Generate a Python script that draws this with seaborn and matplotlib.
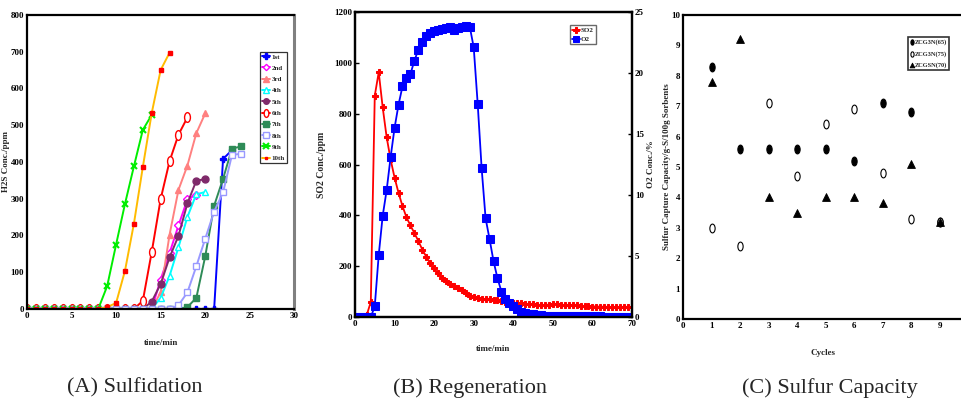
import numpy as np
import pandas as pd
import seaborn as sns
import matplotlib.pyplot as plt
from matplotlib.path import Path
from matplotlib.transforms import Affine2D

# ---- (A) sulfidation: H2S breakthrough per cycle ----
runs = ["1st", "2nd", "3rd", "4th", "5th", "6th", "7th", "8th", "9th", "10th"]
h2s_1st = [0] * 22 + [408, 432]
h2s_2nd = [0] * 15 + [80, 152, 227, 298, 311]
h2s_3rd = [0] * 15 + [45, 202, 324, 390, 478, 532]
h2s_4th = [0] * 15 + [30, 90, 168, 250, 312, 318]
h2s_5th = [0] * 14 + [20, 68, 140, 199, 287, 349, 353]
h2s_6th = [0] * 13 + [22, 155, 299, 402, 474, 521]
h2s_7th = [0] * 18 + [5, 30, 143, 281, 354, 436, 442]
h2s_8th = [0] * 17 + [10, 45, 116, 191, 265, 317, 419, 422]
h2s_9th = [0] * 9 + [62, 175, 286, 388, 487, 528]
h2s_10th = [0] * 9 + [5, 16, 104, 232, 386, 533, 650, 697]
h2s = [h2s_1st, h2s_2nd, h2s_3rd, h2s_4th, h2s_5th,
       h2s_6th, h2s_7th, h2s_8th, h2s_9th, h2s_10th]

# ---- (B) regeneration: SO2 (ppm) and O2 (%) vs time ----
regen_time = list(range(70))
so2 = [5, 0, 0, 10, 60, 871, 963, 825, 708, 620, 549, 489, 437, 393, 361, 331,
       300, 266, 238, 212, 192, 172, 155, 142, 131, 123, 115, 108, 94, 85, 79,
       75, 72, 70, 70, 69, 66, 63, 60, 58, 56, 55, 54, 52, 51, 50, 49, 48, 48,
       49, 50, 50, 49, 48, 47, 46, 46, 45, 44, 43, 42, 42, 41, 41, 40, 40, 40,
       40, 40, 40]
o2 = [0, 0, 0, 0, 0, 0.9, 5.1, 8.3, 10.4, 13.1, 15.5, 17.4, 18.9, 19.6, 19.9,
      21.0, 21.9, 22.5, 23.0, 23.3, 23.45, 23.55, 23.6, 23.7, 23.8, 23.5, 23.7,
      23.8, 23.85, 23.8, 22.1, 17.5, 12.2, 8.1, 6.4, 4.6, 3.2, 2.1, 1.5, 1.2,
      0.95, 0.7, 0.45, 0.35, 0.28, 0.22, 0.18, 0.15, 0.12, 0.1, 0.09, 0.08,
      0.08, 0.08, 0.07, 0.07, 0.07, 0.07, 0.06, 0.06, 0.06, 0.06, 0.06, 0.05,
      0.05, 0.05, 0.05, 0.05, 0.05, 0.05]

# ---- (C) sulfur capture capacity per cycle ----
cycles = [1, 2, 3, 4, 5, 6, 7, 8, 9, 10]
cap_65 = [8.3, 5.6, 5.6, 5.6, 5.6, 5.2, 7.1, 6.8, 3.2, 4.0]
cap_75 = [3.0, 2.4, 7.1, 4.7, 6.4, 6.9, 4.8, 3.3, 3.2, 3.1]
cap_70 = [7.8, 9.2, 4.0, 3.5, 4.0, 4.0, 3.8, 5.1, 3.2, 3.7]
sorbents = ["ZCG3N(65)", "ZCG3N(75)", "ZCGSN(70)"]

captions = ["(A) Sulfidation", "(B) Regeneration", "(C) Sulfur Capacity"]

sns.set_theme(style="white")
plt.rcParams["font.family"] = ["Liberation Serif", "DejaVu Serif"]
plt.rcParams["font.weight"] = "bold"

ellipse = Path.unit_circle().transformed(Affine2D().scale(0.6, 1.0))


def style_ax(ax):
    for s in ax.spines.values():
        s.set_color("black")
        s.set_linewidth(1.6)
    ax.tick_params(direction="in", length=3, width=1, labelsize=6.5, pad=2,
                   colors="black")
    for lab in ax.get_xticklabels() + ax.get_yticklabels():
        lab.set_fontweight("bold")


fig = plt.figure(figsize=(9.62, 4.13), dpi=100)

# panel A
axA = fig.add_axes([0.028, 0.252, 0.278, 0.712])
a_style = [
    dict(color="#0000ff", marker="P", mfc="#0000ff", mec="#0000ff"),
    dict(color="#ff00ff", marker="D", mfc="white", mec="#ff00ff", ms=4),
    dict(color="#ff8080", marker="^", mfc="#ff8080", mec="#ff8080"),
    dict(color="#00ffff", marker="^", mfc="white", mec="#00ffff"),
    dict(color="#7f2a6a", marker="o", mfc="#7f2a6a", mec="#7f2a6a"),
    dict(color="#ff0000", marker=ellipse, mfc="white", mec="#ff0000", ms=7),
    dict(color="#2e8b57", marker="s", mfc="#2e8b57", mec="#2e8b57"),
    dict(color="#9999ff", marker="s", mfc="white", mec="#9999ff"),
    dict(color="#00ee00", marker="x", mfc="#00ee00", mec="#00ee00", mew=1.5),
    dict(color="#ffbb00", marker="s", mfc="#ff0000", mec="#ff0000", ms=2.5),
]
for name, vals, st in zip(runs, h2s, a_style):
    st = dict(st)
    ms = st.pop("ms", 5)
    mew = st.pop("mew", 1.0)
    sns.lineplot(x=list(range(len(vals))), y=vals, ax=axA, label=name,
                 lw=1.4, ms=ms, mew=mew, **st)
axA.set_xlim(0, 30)
axA.set_ylim(0, 800)
axA.set_xticks(range(0, 31, 5))
axA.set_yticks(range(0, 801, 100))
axA.set_xlabel("time/min", fontsize=6.5, fontweight="bold", labelpad=14)
axA.set_ylabel("H2S Conc./ppm", fontsize=6.5, fontweight="bold", labelpad=0.5)
style_ax(axA)
axA.spines["right"].set_color("#808080")
axA.spines["right"].set_linewidth(2.2)
leg = axA.legend(loc="upper left", bbox_to_anchor=(0.873, 0.875), fontsize=5,
                 frameon=True, fancybox=False, edgecolor="black",
                 handlelength=1.1, handletextpad=0.2, labelspacing=0.78,
                 borderpad=0.3, borderaxespad=0, markerscale=0.8)
leg.get_frame().set_linewidth(0.9)

# panel B
axB = fig.add_axes([0.369, 0.232, 0.288, 0.739])
axB2 = axB.twinx()
sns.lineplot(x=regen_time, y=so2, ax=axB, color="#ff0000", marker="P",
             mfc="#ff0000", mec="#ff0000", ms=5, lw=1.3, label="SO2",
             legend=False)
sns.lineplot(x=regen_time, y=o2, ax=axB2, color="#0000ff", marker="s",
             mfc="#0000ff", mec="#0000ff", ms=5.5, lw=1.3, label="O2",
             legend=False)
axB.set_xlim(0, 70)
axB.set_ylim(0, 1200)
axB2.set_ylim(0, 25)
axB.set_xticks(range(0, 71, 10))
axB.set_yticks(range(0, 1201, 200))
axB2.set_yticks(range(0, 26, 5))
axB.set_xlabel("time/min", fontsize=6.5, fontweight="bold", labelpad=12)
axB.set_ylabel("SO2 Conc./ppm", fontsize=7, fontweight="bold", labelpad=6)
axB2.set_ylabel("O2 Conc./%", fontsize=6.5, fontweight="bold", labelpad=2)
style_ax(axB)
style_ax(axB2)
h1, l1 = axB.get_legend_handles_labels()
h2, l2 = axB2.get_legend_handles_labels()
legB = axB2.legend(h1 + h2, l1 + l2, loc="upper left",
                   bbox_to_anchor=(0.776, 0.957), fontsize=5, frameon=True,
                   fancybox=False, edgecolor="#444444", handlelength=1.1,
                   handletextpad=0.2, labelspacing=0.5, borderpad=0.3,
                   borderaxespad=0, markerscale=0.8)
legB.get_frame().set_linewidth(1.0)

# panel C
axC = fig.add_axes([0.710, 0.2276, 0.290, 0.736])
sns.scatterplot(x=cycles, y=cap_65, ax=axC, marker=ellipse, s=40,
                color="black", edgecolor="black", linewidth=0.8,
                label=sorbents[0], clip_on=False)
sns.scatterplot(x=cycles, y=cap_75, ax=axC, marker=ellipse, s=40,
                facecolor="white", edgecolor="black", linewidth=0.8,
                label=sorbents[1], clip_on=False)
sns.scatterplot(x=cycles, y=cap_70, ax=axC, marker="^", s=32,
                color="black", edgecolor="black", linewidth=0.6,
                label=sorbents[2], clip_on=False)
axC.set_xlim(0, 9.78)
axC.set_ylim(0, 10)
axC.set_xticks(range(0, 10))
axC.set_yticks(range(0, 11))
axC.set_xlabel("Cycles", fontsize=6.5, fontweight="bold", labelpad=14)
axC.set_ylabel("Sulfur Capture Capacity/g-S/100g Sorbents", fontsize=6.5,
               fontweight="bold", labelpad=0)
style_ax(axC)
axC.spines["right"].set_visible(False)
legC = axC.legend(loc="upper left", bbox_to_anchor=(0.806, 0.928),
                  fontsize=4.6, frameon=True, fancybox=False,
                  edgecolor="black", handlelength=0.5, handletextpad=0.2,
                  labelspacing=0.9, borderpad=0.35, borderaxespad=0,
                  markerscale=0.6)
legC.get_frame().set_linewidth(1.2)

for cx, txt in zip([0.140, 0.489, 0.863], captions):
    fig.text(cx, 0.06, txt, ha="center", va="center", fontsize=16,
             fontweight="normal", family=["Liberation Serif", "DejaVu Serif"])

fig.savefig("out.png", dpi=100, facecolor="white")
